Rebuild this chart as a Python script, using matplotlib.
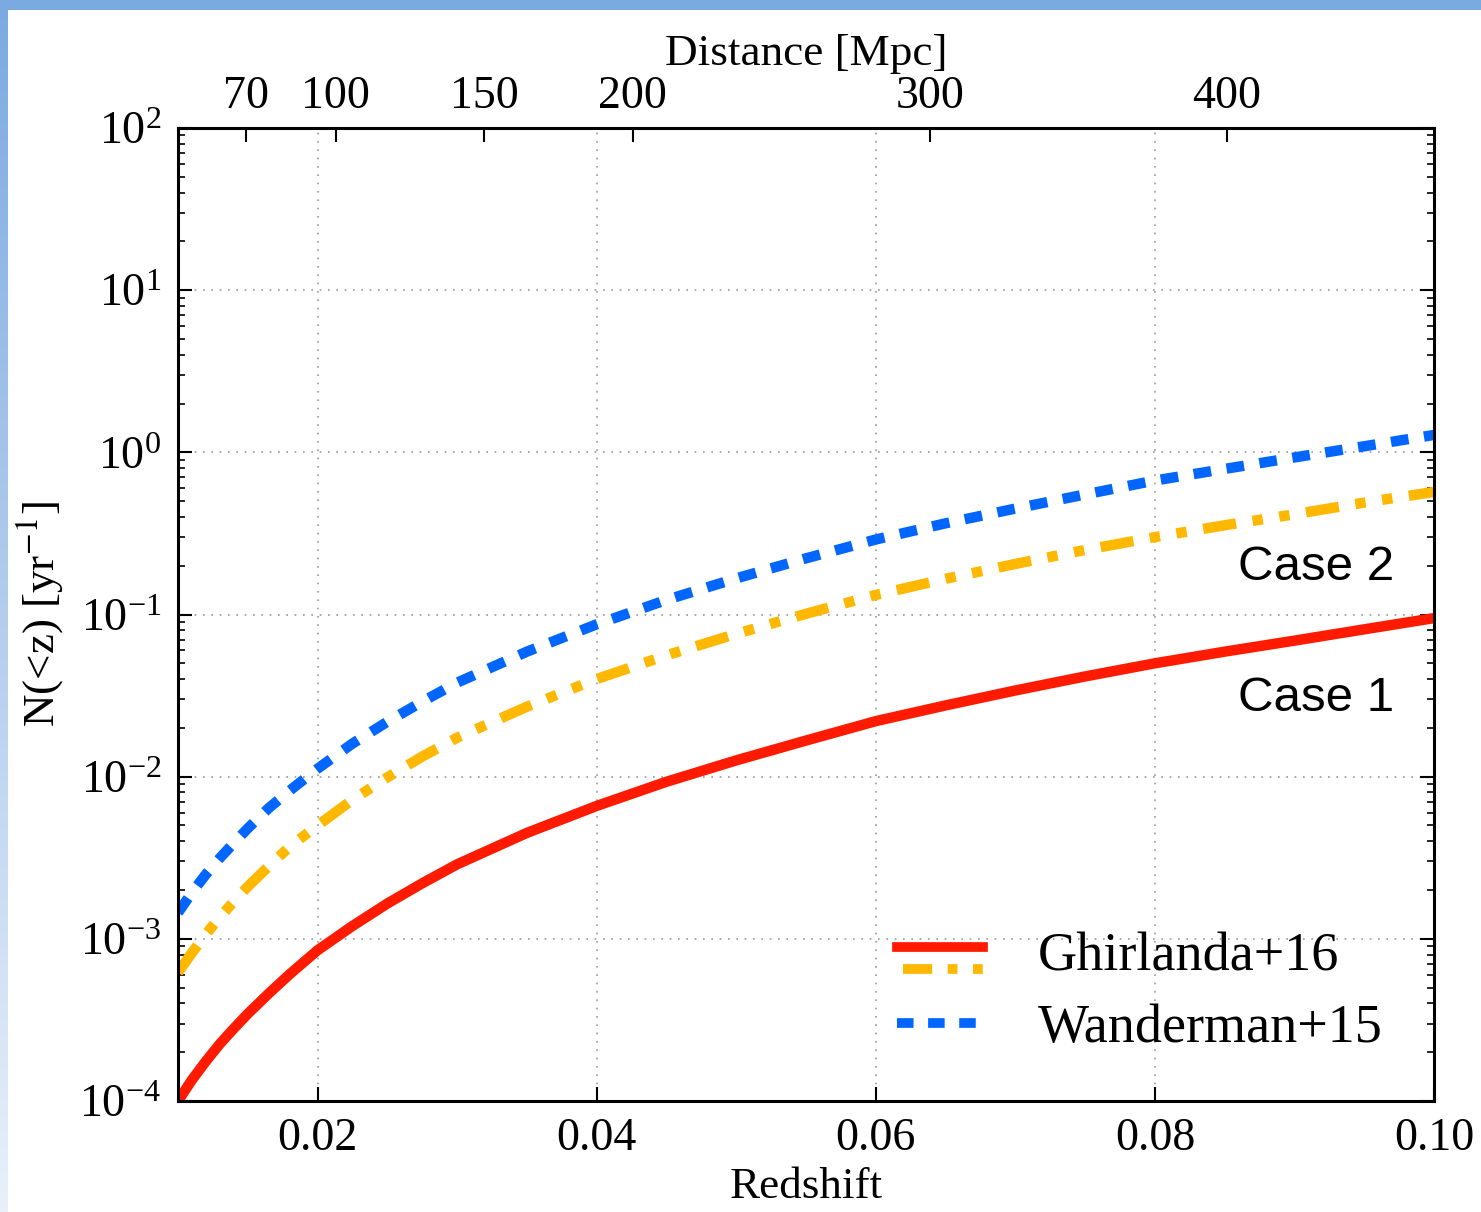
import numpy as np
import matplotlib
matplotlib.use('Agg')
import matplotlib.pyplot as plt
from matplotlib.lines import Line2D
from matplotlib.legend_handler import HandlerBase
from matplotlib.ticker import NullFormatter

plt.rcParams['font.family'] = ['Liberation Serif', 'DejaVu Serif']
plt.rcParams['mathtext.fontset'] = 'stix'

# values
redshift = [0.010, 0.011, 0.012, 0.013, 0.014, 0.015, 0.0165, 0.018, 0.020,
            0.0225, 0.025, 0.0275, 0.030, 0.035, 0.040, 0.045, 0.050, 0.055,
            0.060, 0.065, 0.070, 0.075, 0.080, 0.085, 0.090, 0.095, 0.100]
ghirlanda_case1 = [1.0e-4, 1.35e-4, 1.76e-4, 2.25e-4, 2.8e-4, 3.45e-4, 4.6e-4, 6.05e-4, 8.5e-4,
                   1.2e-3, 1.65e-3, 2.2e-3, 2.88e-3, 4.5e-3, 6.6e-3, 9.3e-3, 1.26e-2, 1.67e-2,
                   2.2e-2, 2.75e-2, 3.4e-2, 4.15e-2, 5.0e-2, 5.9e-2, 6.9e-2, 8.1e-2, 9.5e-2]
ghirlanda_case2 = [6.2e-4, 8.2e-4, 1.07e-3, 1.36e-3, 1.7e-3, 2.1e-3, 2.8e-3, 3.7e-3, 5.0e-3,
                   7.2e-3, 0.99e-2, 1.33e-2, 1.74e-2, 2.7e-2, 4.0e-2, 5.6e-2, 7.6e-2, 0.101,
                   0.132, 0.166, 0.205, 0.25, 0.30, 0.355, 0.415, 0.49, 0.57]
wanderman = [1.45e-3, 1.93e-3, 2.5e-3, 3.15e-3, 3.9e-3, 4.8e-3, 6.4e-3, 8.2e-3, 1.12e-2,
             1.6e-2, 2.18e-2, 2.9e-2, 3.8e-2, 5.9e-2, 8.7e-2, 0.123, 0.167, 0.222,
             0.29, 0.365, 0.45, 0.55, 0.67, 0.79, 0.93, 1.09, 1.28]
dist_ticks = [70, 100, 150, 200, 300, 400]
mpc_per_z = 4697.0
x_ticks = [0.02, 0.04, 0.06, 0.08, 0.10]
x_ticklabels = ['0.02', '0.04', '0.06', '0.08', '0.10']

red = '#ff1a00'
yellow = '#ffb800'
blue = '#0066ff'


class TwoLineHandler(HandlerBase):
    # red and yellow stacked in one legend entry
    def create_artists(self, legend, orig, xd, yd, w, h, fs, trans):
        l1 = Line2D([xd, xd + w], [yd + h * 0.62, yd + h * 0.62], color=red, lw=7)
        l2 = Line2D([xd + 0.07 * w, xd + w], [yd + h * 0.04, yd + h * 0.04], color=yellow, lw=7,
                    dashes=(3.0, 1.6, 1.0, 1.6, 1.0, 1.6))
        l1.set_transform(trans)
        l2.set_transform(trans)
        return [l1, l2]


fig = plt.figure(figsize=(14.81, 12.12), dpi=100)

# slide border
band = fig.add_axes([0, 1 - 10 / 1212, 1, 10 / 1212])
band.set_axis_off()
band.add_patch(plt.Rectangle((0, 0), 1, 1, color='#7baae0', transform=band.transAxes))
side = fig.add_axes([0, 0, 8 / 1481, 1])
side.set_axis_off()
grad = np.linspace(0, 1, 256)[:, None]
side.imshow(grad, aspect='auto', cmap=matplotlib.colors.LinearSegmentedColormap.from_list(
    'b', ['#7baae0', '#e9f0fa']), extent=[0, 1, 0, 1])

ax = fig.add_axes([178 / 1481, 1 - 1101 / 1212, 1256 / 1481, 973 / 1212])
ax.plot(redshift, ghirlanda_case1, color=red, lw=7.5, solid_capstyle='butt')
ax.plot(redshift, ghirlanda_case2, color=yellow, lw=7.5,
        dashes=(3.2, 1.6, 1.0, 1.6, 1.0, 1.6), dash_capstyle='butt')
ax.plot(redshift, wanderman, color=blue, lw=7.5, dashes=(1.7, 1.5), dash_capstyle='butt')

ax.set_yscale('log')
ax.set_xlim(0.01, 0.10)
ax.set_ylim(1e-4, 1e2)
ax.set_xticks(x_ticks)
ax.set_xticklabels(x_ticklabels)
ax.yaxis.set_minor_formatter(NullFormatter())
ax.tick_params(axis='both', which='major', direction='in', length=10, width=1.5,
               labelsize=33, top=False, right=True, pad=12)
ax.tick_params(axis='y', which='minor', direction='in', length=5, width=1.2, right=True)
ax.tick_params(axis='x', which='minor', bottom=False)
for s in ax.spines.values():
    s.set_linewidth(2.2)
ax.grid(True, which='major', ls=(0, (1, 4)), color='#999999', lw=1.2)
ax.set_xlabel('Redshift', fontsize=32.5, labelpad=5)
ax.set_ylabel(r'N(<z) [yr$^{-1}$]', fontsize=32.5, labelpad=10)

top = ax.secondary_xaxis('top', functions=(lambda z: z * mpc_per_z, lambda d: d / mpc_per_z))
top.set_xticks(dist_ticks)
top.set_xticklabels([str(d) for d in dist_ticks])
top.tick_params(direction='in', length=10, width=1.5, labelsize=33, pad=7)
top.set_xlabel('Distance [Mpc]', fontsize=32.5, labelpad=8)

ax.text(0.906, 0.548, 'Case 2', transform=ax.transAxes, fontsize=35.5,
        family='Liberation Sans', ha='center', va='center')
ax.text(0.906, 0.414, 'Case 1', transform=ax.transAxes, fontsize=35.5,
        family='Liberation Sans', ha='center', va='center')

h1 = Line2D([], [], color=red)
h2 = Line2D([], [], color=blue, lw=7, dashes=(1.7, 1.5))
ax.legend([h1, h2], ['Ghirlanda+16', 'Wanderman+15'], handler_map={h1: TwoLineHandler()},
          loc='upper left', bbox_to_anchor=(0.555, 0.196), borderaxespad=0, frameon=False,
          fontsize=39, handlelength=1.6, handletextpad=1.0, labelspacing=0.38)

fig.savefig('out.png', dpi=100)
